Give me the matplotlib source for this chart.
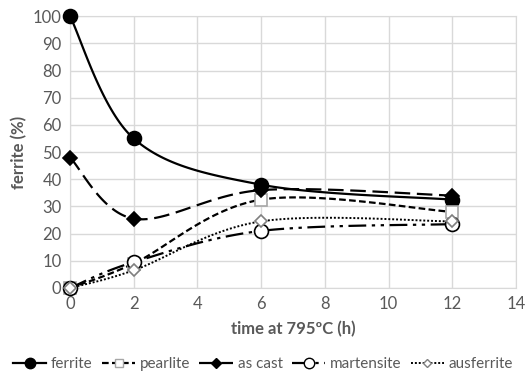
import numpy as np
import matplotlib.pyplot as plt
from matplotlib.lines import Line2D

plt.rcParams['font.family'] = ['Lato', 'DejaVu Sans']

hours = [0, 2, 6, 12]
ferrite = [100, 55, 38, 32.5]
pearlite = [0, 9, 32.5, 28]
as_cast = [48, 25.5, 36, 34]
martensite = [0, 9.5, 21, 23.5]
ausferrite = [0, 6.5, 24.5, 24.5]

x_ticks = [0, 2, 4, 6, 8, 10, 12, 14]
y_ticks = [0, 10, 20, 30, 40, 50, 60, 70, 80, 90, 100]


def smooth(x, y, n=40):
    # Excel-like smoothed line: cubic bezier through the points (Catmull-Rom tangents)
    x = np.asarray(x, float)
    y = np.asarray(y, float)
    px = np.concatenate([[x[0]], x, [x[-1]]])
    py = np.concatenate([[y[0]], y, [y[-1]]])
    xs, ys = [], []
    t = np.linspace(0, 1, n)
    for i in range(len(x) - 1):
        p0 = np.array([px[i + 1], py[i + 1]])
        p3 = np.array([px[i + 2], py[i + 2]])
        c1 = p0 + (np.array([px[i + 2], py[i + 2]]) - np.array([px[i], py[i]])) / 6
        c2 = p3 - (np.array([px[i + 3], py[i + 3]]) - np.array([px[i + 1], py[i + 1]])) / 6
        b = ((1 - t) ** 3)[:, None] * p0 + (3 * (1 - t) ** 2 * t)[:, None] * c1 \
            + (3 * (1 - t) * t ** 2)[:, None] * c2 + (t ** 3)[:, None] * p3
        xs.append(b[:, 0])
        ys.append(b[:, 1])
    return np.concatenate(xs), np.concatenate(ys)


series = [
    ('ferrite', ferrite, dict(ls='-', lw=1.6), dict(marker='o', ms=10, mfc='black', mec='black')),
    ('pearlite', pearlite, dict(ls=(0, (3, 1.5)), lw=1.6), dict(marker='s', ms=8, mfc='white', mec='#a6a6a6')),
    ('as cast', as_cast, dict(ls=(0, (7, 3)), lw=1.6), dict(marker='D', ms=7, mfc='black', mec='black')),
    ('martensite', martensite, dict(ls=(0, (8, 2.5, 1.5, 2.5, 1.5, 2.5)), lw=1.6), dict(marker='o', ms=10, mfc='white', mec='black')),
    ('ausferrite', ausferrite, dict(ls=(0, (1, 1)), lw=1.4), dict(marker='D', ms=6, mfc='white', mec='#7f7f7f')),
]

fig, ax = plt.subplots(figsize=(5.26, 3.85), dpi=100)
fig.subplots_adjust(left=0.133, right=0.981, top=0.958, bottom=0.252)

handles = []
for name, vals, lstyle, mstyle in series:
    sx, sy = smooth(hours, vals)
    ax.plot(sx, sy, color='black', zorder=3, clip_on=False, **lstyle)
    ax.plot(hours, vals, ls='none', zorder=4, mew=1.2, clip_on=False, **mstyle)
    legend_m = dict(mstyle)
    legend_m['ms'] = mstyle['ms'] * 0.75
    handles.append(Line2D([], [], color='black', **lstyle, mew=1.0, **legend_m))

ax.set_xlim(0, 14)
ax.set_ylim(0, 100)
ax.set_xticks(x_ticks)
ax.set_yticks(y_ticks)
ax.grid(True, color='#d9d9d9', lw=1)
ax.set_axisbelow(True)
for s in ax.spines.values():
    s.set_color('#d9d9d9')
ax.tick_params(length=0, labelsize=12, colors='#595959', pad=6)
ax.set_xlabel('time at 795ºC (h)', fontsize=12, fontweight='bold', color='#595959', labelpad=6)
ax.set_ylabel('ferrite (%)', fontsize=12, fontweight='bold', color='#595959', labelpad=4)

fig.legend(handles=handles, labels=[s[0] for s in series], loc='lower center',
           bbox_to_anchor=(0.5, 0.0), ncol=5, frameon=False, fontsize=11,
           handlelength=2.2, columnspacing=0.6, handletextpad=0.3, labelcolor='#595959')

fig.savefig('out.png', dpi=100)
